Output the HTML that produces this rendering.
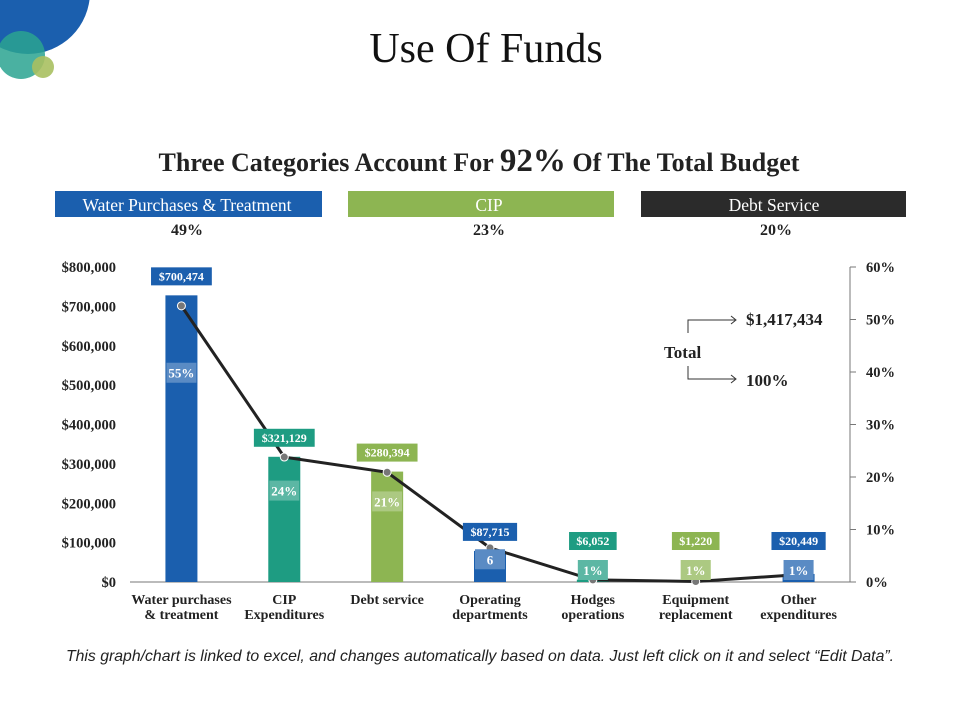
<!DOCTYPE html>
<html><head><meta charset="utf-8">
<style>
body{margin:0;width:960px;height:720px;background:#fff;overflow:hidden;position:relative;font-family:"Liberation Serif",serif}
.abs{position:absolute}
</style></head><body>
<svg class="abs" style="left:0;top:0" width="960" height="720">
<circle cx="28" cy="-8" r="62" fill="#1b5fae"/>
<circle cx="21" cy="55" r="24" fill="#2aa391" opacity="0.85"/>
<circle cx="43" cy="67" r="11" fill="#a8c060" opacity="0.9"/>
<text x="486" y="62" text-anchor="middle" font-size="42" fill="#111">Use Of Funds</text>
<text x="479" y="171" text-anchor="middle" font-size="26" font-weight="bold" fill="#222">Three Categories Account For <tspan font-size="33">92%</tspan> Of The Total Budget</text>
<rect x="55" y="191" width="267" height="26" fill="#1b5fae"/>
<text x="187" y="211" text-anchor="middle" font-size="17.5" fill="#fff">Water Purchases &amp; Treatment</text>
<rect x="348" y="191" width="266" height="26" fill="#8db552"/>
<text x="489" y="211" text-anchor="middle" font-size="17.5" fill="#fff">CIP</text>
<rect x="641" y="191" width="265" height="26" fill="#2b2b2b"/>
<text x="774" y="211" text-anchor="middle" font-size="17.5" fill="#fff">Debt Service</text>
<g font-size="16" font-weight="bold" fill="#222" text-anchor="middle">
<text x="187" y="235">49%</text>
<text x="489" y="235">23%</text>
<text x="776" y="235">20%</text>
</g>
<g id="plot"></g>
<g font-size="17" font-weight="bold" fill="#222">
<text x="664" y="358">Total</text>
<text x="746" y="325">$1,417,434</text>
<text x="746" y="386">100%</text>
</g>
<path d="M688 333V320H735M731 316L736 320L731 324M688 366V379H735M731 375L736 379L731 383" stroke="#333" fill="none"/>
</svg>
<div class="abs" style="left:0;top:648px;width:960px;text-align:center;font:italic 15.8px 'Liberation Sans',sans-serif;color:#222;white-space:nowrap">This graph/chart is linked to excel, and changes automatically based on data. Just left click on it and select “Edit Data”.</div>
<script>
const categories=["Water purchases|& treatment","CIP|Expenditures","Debt service","Operating|departments","Hodges|operations","Equipment|replacement","Other|expenditures"];
const values=[728000,318000,280394,79000,6052,1220,20449];
const valueLabels=["$700,474","$321,129","$280,394","$87,715","$6,052","$1,220","$20,449"];
const pctLabels=["55%","24%","21%","6","1%","1%","1%"];
const pctValues=[52.6,23.8,20.9,6.5,0.4,0.1,1.4];
const leftTicks=[0,100000,200000,300000,400000,500000,600000,700000,800000];
const rightTicks=[0,10,20,30,40,50,60];
const colors=["#1b5fae","#1e9c82","#8db552","#1b5fae","#1e9c82","#8db552","#1b5fae"];
const NS="http://www.w3.org/2000/svg";
const g=document.getElementById('plot');
const X0=130,X1=850,Y0=582,Y1=267;
const y=v=>Y0-(v/800000)*(Y0-Y1);
const yr=p=>Y0-(p/60)*(Y0-Y1);
const step=(X1-X0)/categories.length;
const cx=i=>X0+step*(i+0.5);
function mk(t,a,txt){const e=document.createElementNS(NS,t);for(const k in a)e.setAttribute(k,a[k]);if(txt!==undefined)e.textContent=txt;g.appendChild(e);return e;}
let e;
e=mk('line',{x1:X0,y1:Y0,x2:X1,y2:Y0,stroke:'#777'});


e=mk('line',{x1:X1,y1:Y1,x2:X1,y2:Y0,stroke:'#777'});


leftTicks.forEach(v=>{
 e=mk('text',{x:116,y:y(v)+5,'text-anchor':'end','font-size':14.5,'font-weight':'bold',fill:'#222'},'$'+v.toLocaleString('en-US'));
 
 
});
rightTicks.forEach(p=>{
 mk('line',{x1:X1,y1:yr(p),x2:X1+6,y2:yr(p),stroke:'#777'});
 e=mk('text',{x:866,y:yr(p)+5,'font-size':14.5,'font-weight':'bold',fill:'#222'},p+'%');
 
 
});
const bw=32;
let d='';
pctValues.forEach((p,i)=>{d+=(i?'L':'M')+cx(i)+' '+yr(p);});
values.forEach((v,i)=>{
 const top=y(v);
 e=mk('rect',{x:cx(i)-bw/2,y:top,width:bw,height:Y0-top,fill:colors[i]});
 
 
});
e=mk('path',{d:d,stroke:'#222',fill:'none','stroke-width':3});


pctValues.forEach((p,i)=>{
 e=mk('circle',{cx:cx(i),cy:yr(p),r:4,fill:'#777',stroke:'#fff'});
 
 
});
values.forEach((v,i)=>{
 const top=y(v);
 const lw=valueLabels[i].length*6.6+8;
 const lc=Math.min(top-19,Y0-41);
 e=mk('rect',{x:cx(i)-lw/2,y:lc-9,width:lw,height:18,fill:colors[i]});
 
 
 e=mk('text',{x:cx(i),y:lc+4,'text-anchor':'middle','font-size':12,'font-weight':'bold',fill:'#fff'},valueLabels[i]);
 
 
 const py=Math.min(top+(Y0-top)*0.27,Y0-12);
 mk('rect',{x:cx(i)-15,y:py-10,width:30,height:20,fill:colors[i]});
 e=mk('rect',{x:cx(i)-15,y:py-10,width:30,height:20,fill:'rgba(255,255,255,0.28)'});
 
 
 e=mk('text',{x:cx(i),y:py+5,'text-anchor':'middle','font-size':13,'font-weight':'bold',fill:'#fff'},pctLabels[i]);
 
 
 categories[i].split('|').forEach((s,k)=>{
  e=mk('text',{x:cx(i),y:604+k*15,'text-anchor':'middle','font-size':14,'font-weight':'bold',fill:'#222'},s);
  
  
 });
});
</script>
</body></html>
